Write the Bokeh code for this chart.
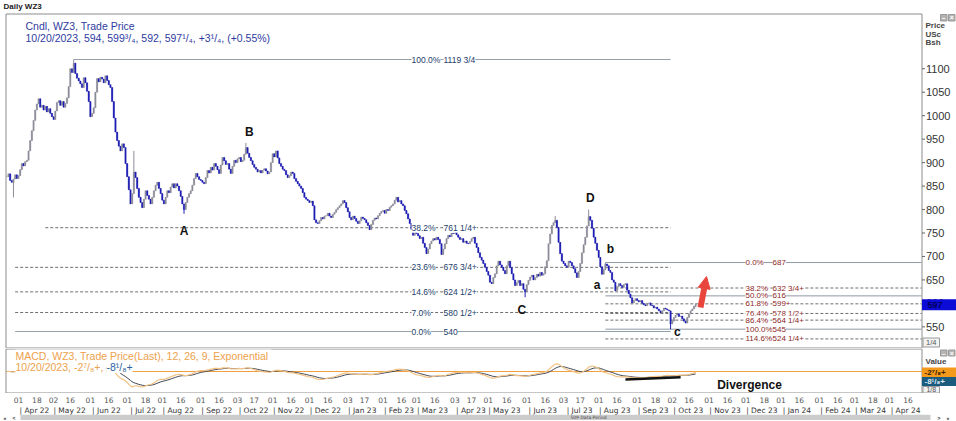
import numpy as np
import pandas as pd
from bokeh.plotting import figure
from bokeh.layouts import column
from bokeh.models import (Range1d, LinearAxis, FixedTicker, ColumnDataSource,
                          LabelSet, Label, Arrow, NormalHead)
from bokeh.core.properties import value
from bokeh.embed import file_html
from bokeh.resources import INLINE

# ---------------------------------------------------------------- data
FIRST_BAR = "2022-03-23"      # first daily bar on the chart
ORIGIN = "2022-04-01"         # weekday index 0

# daily closes (USc/bu), one list per calendar month
close_2022_03 = [870, 876, 862, 858, 865, 874, 866]
close_2022_04 = [872, 885, 898, 893, 902, 905, 925, 947, 968, 990, 1012, 1025, 1036, 1018, 1022,
                 1012, 1020, 1008, 1015, 1005, 998]
close_2022_05 = [992, 1010, 1028, 1032, 1022, 1030, 1018, 1026, 1038, 1062, 1100, 1092, 1112, 1090,
                 1080, 1074, 1068, 1060, 1081, 1070, 1052, 1030]
close_2022_06 = [998, 1005, 1017, 1050, 1079, 1072, 1082, 1078, 1070, 1085, 1075, 1066, 1060, 1030,
                 995, 965, 947, 935, 925, 940, 932, 898]
close_2022_07 = [870, 842, 812, 834, 880, 868, 845, 826, 815, 804, 822, 840, 830, 822, 812, 826, 840,
                 852, 858, 845, 834]
close_2022_08 = [820, 812, 826, 840, 836, 848, 855, 846, 855, 850, 840, 828, 812, 800, 815, 826, 834,
                 840, 852, 866, 877, 870, 864]
close_2022_09 = [862, 858, 855, 868, 883, 878, 890, 884, 898, 892, 885, 877, 895, 911, 904, 896, 898,
                 886, 877, 892, 905, 900]
close_2022_10 = [908, 911, 902, 905, 918, 932, 920, 911, 904, 896, 890, 886, 880, 883, 878, 884, 887,
                 882, 876, 880, 900]
close_2022_11 = [919, 912, 925, 910, 898, 892, 886, 883, 874, 868, 872, 880, 877, 866, 860, 855, 850,
                 845, 836, 826, 822, 819]
close_2022_12 = [815, 818, 808, 778, 772, 770, 776, 783, 780, 786, 787, 792, 786, 783, 790, 794, 800,
                 804, 808, 812, 819, 815]
close_2023_01 = [804, 795, 783, 778, 786, 781, 775, 770, 776, 784, 781, 778, 772, 766, 757, 768, 777,
                 782, 780, 787, 792, 796]
close_2023_02 = [798, 792, 800, 798, 805, 808, 812, 820, 826, 816, 819, 812, 808, 798, 791, 780, 770,
                 758, 745, 752]
close_2023_03 = [749, 744, 738, 741, 728, 719, 706, 716, 727, 733, 738, 735, 741, 736, 727, 704, 716,
                 727, 738, 745, 742, 750, 749]
close_2023_04 = [752, 746, 741, 736, 738, 730, 733, 728, 727, 732, 738, 741, 728, 719, 708, 698, 692,
                 685, 677, 668]
close_2023_05 = [660, 645, 642, 655, 663, 680, 690, 682, 677, 670, 663, 680, 690, 676, 663, 650, 638,
                 644, 649, 638, 642, 630, 625]
close_2023_06 = [640, 649, 656, 660, 650, 655, 662, 658, 666, 660, 663, 678, 691, 727, 748, 766, 772,
                 777, 762, 730, 706, 690]
close_2023_07 = [685, 680, 677, 690, 687, 680, 674, 665, 655, 668, 685, 708, 725, 741, 765, 785, 777,
                 760, 741, 728, 713]
close_2023_08 = [698, 678, 662, 672, 684, 680, 670, 666, 650, 645, 627, 636, 642, 638, 634, 640, 642,
                 628, 620, 612, 601, 606, 610]
close_2023_09 = [606, 603, 606, 600, 597, 595, 600, 601, 596, 595, 590, 592, 588, 584, 580, 584, 590,
                 588, 586, 584, 556]
close_2023_10 = [562, 570, 575, 578, 572, 573, 567, 562, 558, 570, 578, 584, 588, 594, 597.25]

# wick extremes that stand out from the bodies
wick_high_dates = ["2022-05-18", "2022-07-07", "2022-10-10", "2023-06-26", "2023-07-24",
                   "2023-08-07", "2023-10-20"]
wick_high_vals = [1119.75, 925, 942, 786, 800, 687, 599.75]
wick_low_dates = ["2022-03-29", "2022-08-18", "2023-05-31", "2023-09-29", "2023-10-20"]
wick_low_vals = [826, 791, 613, 545, 592]

# large Fibonacci study (1119 3/4 high -> 540)
big_levels = [1119.75, 761.25, 676.75, 624.5, 580.5, 540.0]
big_pcts = ["100.0%", "38.2%", "23.6%", "14.6%", "7.0%", "0.0%"]
big_vals = ["1119 3/4", "761 1/4+", "676 3/4+", "624 1/2+", "580 1/2+", "540"]
big_start = ["2022-05-18", "2022-04-25", "2022-03-30", "2022-03-30", "2022-03-30", "2022-03-30"]
BIG_END = "2023-09-29"

# small Fibonacci study (687 -> 545)
small_levels = [687.0, 632.75, 616.0, 599.0, 578.5, 564.25, 545.0, 524.25]
small_pcts = ["0.0%", "38.2%", "50.0%", "61.8%", "76.4%", "86.4%", "100.0%", "114.6%"]
small_vals = ["687", "632 3/4+", "616", "599+", "578 1/2+", "564 1/4+", "545", "524 1/4+"]
SMALL_START = "2023-08-07"

# wave labels
wave_text = ["A", "B", "C", "D", "a", "b", "c"]
wave_date = ["2022-08-18", "2022-10-12", "2023-05-29", "2023-07-25", "2023-07-31", "2023-08-10",
             "2023-10-05"]
wave_price = [755, 966, 586, 825, 640, 715, 540]

price_ticks = [550, 600, 650, 700, 750, 800, 850, 900, 950, 1000, 1050, 1100]
LAST_PRICE_TAG = "597"

MACD_FAST, MACD_SLOW, MACD_SIG = 12, 26, 9
MACD_LAST, SIGNAL_LAST = "-2⁷/₈+", "-8¹/₈+"
divergence_dates = ["2023-08-23", "2023-10-09"]
divergence_vals = [-28, -20]

day_tick_dates = ["2022-04-01", "2022-04-18", "2022-05-02", "2022-05-16", "2022-06-01", "2022-06-16",
                  "2022-07-01", "2022-07-18", "2022-08-01", "2022-08-16", "2022-09-01", "2022-09-16",
                  "2022-10-03", "2022-10-17", "2022-11-01", "2022-11-16", "2022-12-01", "2022-12-16",
                  "2023-01-03", "2023-01-17", "2023-02-01", "2023-02-16", "2023-03-01", "2023-03-16",
                  "2023-04-03", "2023-04-17", "2023-05-01", "2023-05-16", "2023-06-01", "2023-06-16",
                  "2023-07-03", "2023-07-17", "2023-08-01", "2023-08-16", "2023-09-01", "2023-09-18",
                  "2023-10-02", "2023-10-16", "2023-11-01", "2023-11-16", "2023-12-01", "2023-12-18",
                  "2024-01-01", "2024-01-16", "2024-02-01", "2024-02-16", "2024-03-01", "2024-03-18",
                  "2024-04-01", "2024-04-16"]
FIRST_MONTH, LAST_MONTH = "2022-04", "2024-04"

# ---------------------------------------------------------------- derived series
def wd(d):
    return int(np.busday_count(np.datetime64(ORIGIN, "D"), np.datetime64(d, "D")))

close = np.array(close_2022_03 + close_2022_04 + close_2022_05 + close_2022_06 + close_2022_07 +
                 close_2022_08 + close_2022_09 + close_2022_10 + close_2022_11 + close_2022_12 +
                 close_2023_01 + close_2023_02 + close_2023_03 + close_2023_04 + close_2023_05 +
                 close_2023_06 + close_2023_07 + close_2023_08 + close_2023_09 + close_2023_10,
                 dtype=float)
dates = pd.bdate_range(FIRST_BAR, periods=len(close))
xi = np.busday_count(np.datetime64(ORIGIN, "D"), dates.values.astype("datetime64[D]")).astype(float)

opens = np.r_[close[0], close[:-1]]
highs = np.maximum(opens, close)
lows = np.minimum(opens, close)
pos = {int(x): i for i, x in enumerate(xi)}
for d, v in zip(wick_high_dates, wick_high_vals):
    highs[pos[wd(d)]] = v
for d, v in zip(wick_low_dates, wick_low_vals):
    lows[pos[wd(d)]] = v

UP, DOWN = "#8d8d9a", "#1e1eb4"
cols = [UP if c >= o else DOWN for o, c in zip(opens, close)]

s = pd.Series(close)
macd = s.ewm(span=MACD_FAST, adjust=False).mean() - s.ewm(span=MACD_SLOW, adjust=False).mean()
signal = macd.ewm(span=MACD_SIG, adjust=False).mean()

# ---------------------------------------------------------------- page geometry
W = 956
PX0, PXD = 18.0, 1.672            # pixel column of weekday 0, pixels per weekday
P_REF, P_ROW, P_SCALE = 1119.75, 59.0, 0.4692   # price P_REF sits on row P_ROW; px per cent
A_H = 348                          # price panel canvas height
B_TOP, B_FRAME = 348, 45           # MACD frame rows
ZERO_ROW, M_SCALE = 371, 3.5       # MACD zero row and units per pixel
AXIS_COL = 921                     # column of the price-axis line
FONT = "Liberation Sans"
GRID = "#8c8c8c"

def ix(px):
    return (px - PX0) / PXD

def py(row):
    return P_REF - (row - P_ROW) / P_SCALE

def my(row):
    return (ZERO_ROW - row) * M_SCALE

xr = Range1d(ix(0), ix(W))

def base_fig(h, yr):
    return figure(width=W, frame_width=W, frame_height=h, x_range=xr, y_range=yr,
                  output_backend="svg", toolbar_location=None, x_axis_type=None,
                  y_axis_type=None, title=None, min_border=0, min_border_left=0,
                  min_border_right=0, min_border_top=0, min_border_bottom=0,
                  background_fill_color="white", border_fill_color="white",
                  outline_line_color=None)

# ================================================================ price panel
pa = base_fig(A_H, Range1d(py(A_H), py(0)))

L, R, T, Bt = ix(5.5), ix(AXIS_COL + 0.5), py(13.5), py(A_H - 0.5)
pa.segment(x0=[L, L, L, R], x1=[R, R, L, R], y0=[T, Bt, Bt, Bt], y1=[T, Bt, T, T],
           line_color=GRID, line_width=1)

def fib_lines(levels, pcts, x0s, x1):
    solid = dict(x0=[], x1=[], y=[])
    dashed = dict(x0=[], x1=[], y=[])
    for lv, pc, x0 in zip(levels, pcts, x0s):
        tgt = solid if pc in ("0.0%", "50.0%", "100.0%") else dashed
        tgt["x0"].append(x0); tgt["x1"].append(x1); tgt["y"].append(lv)
    return solid, dashed

bs, bd = fib_lines(big_levels, big_pcts, [wd(d) for d in big_start], wd(BIG_END))
ss, sd = fib_lines(small_levels, small_pcts, [wd(SMALL_START)] * len(small_levels), ix(AXIS_COL))
for dct, dash, colr in ((bs, "solid", "#95a0ad"), (bd, "3 2", "#6f6f6f"),
                        (ss, "solid", "#8f9aa6"), (sd, "3 2", "#6f6f6f")):
    pa.segment(x0=dct["x0"], x1=dct["x1"], y0=dct["y"], y1=dct["y"], line_color=colr,
               line_width=1, line_dash=dash)

src = ColumnDataSource(dict(x=xi, h=highs, l=lows, top=np.maximum(opens, close),
                            bot=np.minimum(opens, close), col=cols))
pa.segment(x0="x", x1="x", y0="l", y1="h", line_color="col", line_width=1, source=src)
pa.vbar(x="x", width=0.8, top="top", bottom="bot", fill_color="col", line_color="col",
        line_width=0.4, source=src)

BIG_PCT_X, BIG_VAL_X = ix(411), ix(443)
SMALL_PCT_X, SMALL_VAL_X = ix(745), ix(772)
big_src = ColumnDataSource(dict(x=[BIG_PCT_X] * len(big_levels) + [BIG_VAL_X] * len(big_levels),
                                y=big_levels + big_levels, t=big_pcts + big_vals))
small_src = ColumnDataSource(dict(x=[SMALL_PCT_X] * len(small_levels) + [SMALL_VAL_X] * len(small_levels),
                                  y=small_levels + small_levels, t=small_pcts + small_vals))
pa.add_layout(LabelSet(x="x", y="y", text="t", source=big_src, text_font=value(FONT),
                       text_font_size="8.5px", text_color="#23406a", text_baseline="middle",
                       background_fill_color="white"))
pa.add_layout(LabelSet(x="x", y="y", text="t", source=small_src, text_font=value(FONT),
                       text_font_size="8px", text_color="#8b1f1f", text_baseline="middle",
                       background_fill_color="white"))

pa.text(x=[wd(d) for d in wave_date], y=wave_price, text=wave_text, text_font=value(FONT),
        text_font_style="bold", text_font_size="12px", text_align="center",
        text_baseline="middle", text_color="#111111")

RED = "#e8453c"
pa.add_layout(Arrow(end=NormalHead(size=12, fill_color=RED, line_color=RED),
                    x_start=ix(700), y_start=py(307), x_end=ix(706), y_end=py(276),
                    line_color=RED, line_width=6))

# price scale on the right
n = len(price_ticks)
pa.segment(x0=[ix(AXIS_COL + 0.5)] * n, x1=[ix(AXIS_COL + 3.5)] * n, y0=price_ticks,
           y1=price_ticks, line_color="#666666", line_width=1)
pa.text(x=[ix(AXIS_COL + 4.5)] * n, y=price_ticks, text=[str(t) for t in price_ticks],
        text_font=value(FONT), text_font_size="11px", text_color="#333333",
        text_baseline="middle", text_align="left")

tag_h = 5.5 / P_SCALE
pa.quad(left=[ix(AXIS_COL + 0.5)], right=[ix(W)], bottom=[close[-1] - tag_h],
        top=[close[-1] + tag_h], fill_color="#0c0cd6", line_color=None)
pa.text(x=[ix(AXIS_COL + 6)], y=[close[-1]], text=[LAST_PRICE_TAG], text_font=value(FONT),
        text_font_size="9px", text_font_style="bold", text_color="#00005a",
        text_baseline="middle")

pa.text(x=[ix(925)] * 3, y=[py(25), py(33.5), py(42)], text=["Price", "USc", "Bsh"],
        text_font=value(FONT), text_font_size="8px", text_font_style="bold",
        text_color="#444444", text_baseline="middle")
pa.quad(left=[ix(922.5)], right=[ix(939)], bottom=[py(346.5)], top=[py(337.5)],
        fill_color="#f2f2f2", line_color="#999999")
pa.text(x=[ix(930.75)], y=[py(342)], text=["1/4"], text_font=value(FONT), text_font_size="7.5px",
        text_color="#555555", text_baseline="middle", text_align="center")
pa.quad(left=[ix(940), ix(948)], right=[ix(946.5), ix(954.5)], bottom=[py(20.5)] * 2,
        top=[py(14)] * 2, fill_color="#b4b4b4", line_color="#999999")
pa.text(x=[ix(943.25), ix(951.25)], y=[py(17.2)] * 2, text=["–", "×"], text_font=value(FONT),
        text_font_size="7px", text_font_style="bold", text_color="white",
        text_baseline="middle", text_align="center")

pa.text(x=[ix(3)], y=[py(5.5)], text=["Daily WZ3"], text_font=value(FONT), text_font_size="8px",
        text_font_style="bold", text_color="#222222", text_baseline="middle")

def lab(p, ax, sy, text, color, size="10.5px"):
    p.add_layout(Label(x=ax, y=sy, x_units="screen", y_units="screen", text=text,
                       text_font=FONT, text_font_size=size, text_color=color,
                       text_baseline="middle", background_fill_color="white"))

LEG = "#2f3c9f"
lab(pa, 25, A_H - 25.5, "Cndl, WZ3, Trade Price", LEG)
lab(pa, 25, A_H - 37.5, "10/20/2023, 594, 599³/₄, 592, 597¹/₄, +3¹/₄, (+0.55%)", LEG)

# ================================================================ MACD panel
pb = base_fig(B_FRAME, Range1d(my(B_TOP + B_FRAME), my(B_TOP)))

Lb, Rb, Tb, Bb = ix(5.5), ix(AXIS_COL + 0.5), my(B_TOP + 0.5), my(B_TOP + B_FRAME - 0.5)
pb.segment(x0=[Lb, Lb, Lb, Rb], x1=[Rb, Rb, Lb, Rb], y0=[Tb, Bb, Bb, Bb], y1=[Tb, Bb, Tb, Tb],
           line_color=GRID, line_width=1)
pb.segment(x0=[Lb], x1=[Rb], y0=[0], y1=[0], line_color="#f0a040", line_width=1)
pb.line(xi, signal.values, line_color="#3d4451", line_width=1)
pb.line(xi, macd.values, line_color="#f2c285", line_width=1.2)
pb.line([wd(d) for d in divergence_dates], divergence_vals, line_color="#111111", line_width=2.5)
pb.text(x=[ix(749)], y=[my(384)], text=["Divergence"], text_font=value(FONT),
        text_font_style="bold", text_font_size="12px", text_align="center",
        text_baseline="middle", text_color="#111111")

ORANGE = "#eda14c"
bsy = lambda row: B_TOP + B_FRAME - row
lab(pb, 15, bsy(355), "MACD, WZ3, Trade Price(Last),  12, 26, 9, Exponential", ORANGE)
lab(pb, 15, bsy(366.5), "10/20/2023, " + MACD_LAST + ", ", ORANGE)
lab(pb, 106, bsy(366.5), SIGNAL_LAST, "#2a5f9e")

pb.quad(left=[ix(940), ix(948)], right=[ix(946.5), ix(954.5)], bottom=[my(355.5)] * 2,
        top=[my(349.5)] * 2, fill_color="#b4b4b4", line_color="#999999")
pb.text(x=[ix(943.25), ix(951.25)], y=[my(352.5)] * 2, text=["–", "×"], text_font=value(FONT),
        text_font_size="7px", text_font_style="bold", text_color="white",
        text_baseline="middle", text_align="center")
pb.text(x=[ix(925)], y=[my(361)], text=["Value"], text_font=value(FONT), text_font_size="8px",
        text_font_style="bold", text_color="#444444", text_baseline="middle")
pb.quad(left=[ix(AXIS_COL + 0.5)] * 2, right=[ix(W)] * 2, bottom=[my(376.5), my(385.5)],
        top=[my(367), my(376.5)], fill_color=["#f39a1c", "#1b5b7e"], line_color=None)
pb.text(x=[ix(924)] * 2, y=[my(371.8), my(381)], text=[MACD_LAST, SIGNAL_LAST],
        text_font=value(FONT), text_font_size="8px", text_font_style="bold",
        text_color=["#3a2000", "#dde8f2"], text_baseline="middle")
pb.quad(left=[ix(922.5)], right=[ix(939)], bottom=[my(392.5)], top=[my(386)],
        fill_color="#f2f2f2", line_color="#999999")
pb.text(x=[ix(930.75)], y=[my(389.3)], text=["1/8"], text_font=value(FONT), text_font_size="7px",
        text_color="#555555", text_baseline="middle", text_align="center")

# ================================================================ date scale + scroll bar strip
SB_H = 6
pc = figure(width=W, frame_width=W, frame_height=SB_H, x_range=xr, y_range=Range1d(0, SB_H),
            output_backend="svg", toolbar_location=None, x_axis_type=None, y_axis_type=None,
            title=None, min_border=0, min_border_left=0, min_border_right=0, min_border_top=0,
            min_border_bottom=0, background_fill_color="white", border_fill_color="white",
            outline_line_color=None)

day_x = [wd(d) for d in day_tick_dates]
day_over = {x: d[-2:] for x, d in zip(day_x, day_tick_dates)}
ax_days = LinearAxis(ticker=FixedTicker(ticks=day_x, minor_ticks=[]), major_label_overrides=day_over,
                     major_label_text_font_size="7.5px", major_label_text_font="DejaVu Sans",
                     major_label_text_color="#555555", major_tick_line_color=None,
                     major_tick_out=0, major_tick_in=0, minor_tick_line_color=None,
                     minor_tick_out=0, axis_line_color=None, major_label_standoff=0)
months = pd.period_range(FIRST_MONTH, LAST_MONTH, freq="M")
MONTH_SHIFT = ix(16) - ix(0)     # labels start just after the month's first bar
month_x = [wd(np.busday_offset(str(m.start_time.date()), 0, roll="forward")) + MONTH_SHIFT
           for m in months]
month_over = {x: "| " + m.strftime("%b %y") for x, m in zip(month_x, months)}
ax_months = LinearAxis(ticker=FixedTicker(ticks=month_x, minor_ticks=[]),
                       major_label_overrides=month_over, major_label_text_font_size="7.5px",
                       major_label_text_font="DejaVu Sans", major_label_text_color="#333333",
                       major_tick_line_color=None, major_tick_out=0, major_tick_in=0,
                       minor_tick_line_color=None, minor_tick_out=0, axis_line_color=None,
                       major_label_standoff=0)
pc.add_layout(ax_months, "above")
pc.add_layout(ax_days, "above")

pc.quad(left=[ix(20)], right=[ix(930)], bottom=[0], top=[SB_H], fill_color="#cccccc",
        line_color=None)
pc.text(x=[ix(3), ix(12), ix(937), ix(946)], y=[3] * 4, text=["«", "<", ">", "»"],
        text_font=value(FONT), text_font_size="5px", text_font_style="bold",
        text_baseline="middle", text_color="#333333")
pc.text(x=[ix(588)], y=[3], text=["509 Data Period"], text_font=value("DejaVu Sans"),
        text_font_size="4.5px", text_align="center", text_baseline="middle", text_color="#444444")

layout = column(pa, pb, pc, spacing=0)
open("out.html", "w").write(file_html(layout, INLINE))
